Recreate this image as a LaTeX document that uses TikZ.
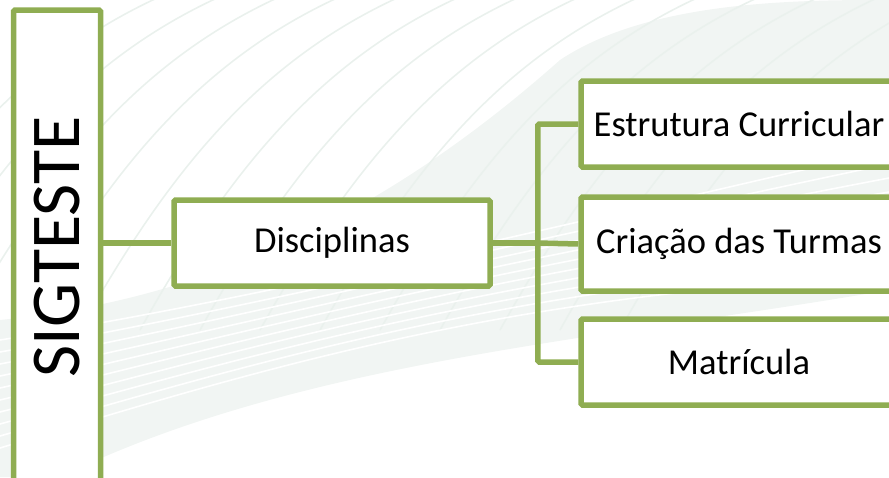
\documentclass[tikz,border=0pt]{standalone}
\usepackage{fontspec}
\setmainfont{Carlito}
\usetikzlibrary{positioning}

\definecolor{boxgreen}{HTML}{8FAD52}
\definecolor{waveband}{HTML}{F1F5F3}
\definecolor{waveline}{HTML}{EAF1ED}

\begin{document}
\begin{tikzpicture}
	  [x=1pt,y=-1pt,
	   box/.style={draw=boxgreen, line width=5.5pt, fill=white, rounded corners=1.5pt,
	     minimum width=316pt, minimum height=86pt, inner sep=0pt,
	     font=\fontsize{36.5}{40}\selectfont},
	   link/.style={draw=boxgreen, line width=5.5pt},
	   wave/.style={waveline, line width=1.6pt}]
	  \useasboundingbox (0,0) rectangle (889,477);
	  \clip (0,0) rectangle (889,477);

	  % background
	  \fill[waveband] (0,320) .. controls (200,300) and (380,220) .. (560,60)
	    .. controls (650,0) and (800,0) .. (889,0) -- (889,290)
	    .. controls (600,340) and (300,360) .. (60,477) -- (0,477) -- cycle;
	  \foreach \i in {0,...,13}
	    \draw[wave] (\i*60-160,330) .. controls (\i*60-60,150) and (\i*60+40,40) .. (\i*60+200,-20);
	  \foreach \i in {0,...,9}
	    \draw[wave, white] (0,340+\i*12) .. controls (250,300+\i*8) and (500,240+\i*6) .. (889,150+\i*14);

	  \node[box, rotate=90, minimum width=474pt, minimum height=87pt,
	        font=\fontsize{70}{80}\selectfont] (sig) at (57,247) {SIGTESTE};
	  \node[box] (disc) at (332,243) {Disciplinas};
	  \node[box] (estr) at (739,124) {Estrutura Curricular};
	  \node[box, minimum height=94pt] (turm) at (739,244) {Criação das Turmas};
	  \node[box] (matr) at (739,362) {Matrícula};

	  \coordinate[right=45pt of disc.east] (fork);
	  \draw[link] (sig.south |- disc.west) -- (disc.west);
	  \draw[link] (disc.east) -- (fork);
	  \draw[link, rounded corners=1.5pt] (estr.west) -| (fork) |- (matr.west);
	  \draw[link] (fork) -- (turm.west);
	\end{tikzpicture}
\end{document}
